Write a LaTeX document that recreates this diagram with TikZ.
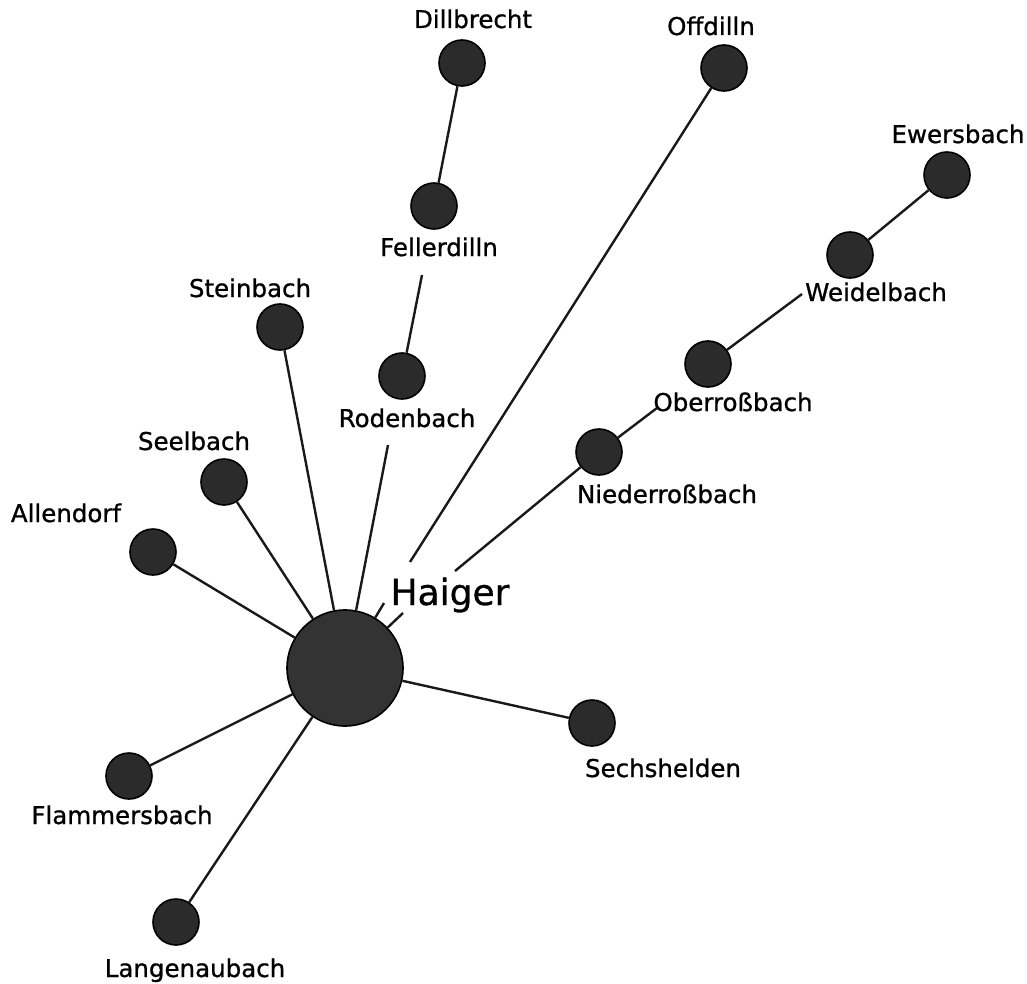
\documentclass[tikz,border=0pt]{standalone}
\usepackage{fontspec}
\setmainfont{DejaVu Sans}
\newfontfamily\lblfont{DejaVu Sans}[BoldFont={DejaVu Sans},BoldFeatures={FakeBold=0.9}]
\begin{document}
\begin{tikzpicture}[x=1pt,y=-1pt,
  town/.style={circle,draw=black,line width=1.6pt,fill=black!83,inner sep=0pt,minimum size=46pt},
  hub/.style={circle,draw=black,line width=1.6pt,fill=black!80,inner sep=0pt,minimum size=116pt},
  lbl/.style={anchor=base,inner sep=0pt,font=\lblfont\bfseries\fontsize{24.5}{26}\selectfont},
  link/.style={line width=2.4pt,black!90}]
\useasboundingbox (0,0) rectangle (1027,984);
% circles
\node[hub]  (Hai) at (345,668) {};
\node[town] (Dil) at (462,63) {};
\node[town] (Off) at (724,68) {};
\node[town] (Ewe) at (947,175) {};
\node[town] (Wei) at (850,255) {};
\node[town] (Fel) at (434,206) {};
\node[town] (Ste) at (280,327) {};
\node[town] (Rod) at (402,376) {};
\node[town] (Obe) at (708,364) {};
\node[town] (See) at (224,482) {};
\node[town] (Nie) at (599,452) {};
\node[town] (All) at (153,552) {};
\node[town] (Sec) at (592,723) {};
\node[town] (Fla) at (129,776) {};
\node[town] (Lan) at (176,922) {};
% labels
\node[lbl] (tDil) at (473,28) {Dillbrecht};
\node[lbl] (tOff) at (711,35) {Offdilln};
\node[lbl] (tEwe) at (958,143) {Ewersbach};
\node[lbl] (tWei) at (876,301) {Weidelbach};
\node[lbl] (tFel) at (439,256) {Fellerdilln};
\node[lbl] (tSte) at (250,297) {Steinbach};
\node[lbl] (tRod) at (407,427) {Rodenbach};
\node[lbl] (tObe) at (733,411) {Oberroßbach};
\node[lbl] (tSee) at (194,450) {Seelbach};
\node[lbl] (tNie) at (667,503) {Niederroßbach};
\node[lbl] (tAll) at (66,522) {Allendorf};
\node[lbl] (tSec) at (663,777) {Sechshelden};
\node[lbl] (tFla) at (122,824) {Flammersbach};
\node[lbl] (tLan) at (195,977) {Langenaubach};
\node[anchor=base,inner sep=0pt,font=\lblfont\bfseries\fontsize{36}{38}\selectfont] (tHai) at (450,605) {Haiger};
% free line ends
\coordinate (felE) at (422,275);
\coordinate (rodE) at (388,445);
\coordinate (offE) at (410,562);
\coordinate (offS) at (384,603);
\coordinate (nieE) at (455,571);
\coordinate (nieS) at (403,613);
\coordinate (obeE) at (657,408);
\coordinate (weiE) at (802,294);
% connectors
\draw[link] (Dil) -- (Fel);
\draw[link] (Rod) -- (felE);
\draw[link] (rodE) -- (Hai);
\draw[link] (Off) -- (offE);
\draw[link] (Hai) -- (offS);
\draw[link] (Nie) -- (nieE);
\draw[link] (Hai) -- (nieS);
\draw[link] (Nie) -- (obeE);
\draw[link] (Obe) -- (weiE);
\draw[link] (Wei) -- (Ewe);
\draw[link] (Ste) -- (Hai);
\draw[link] (See) -- (Hai);
\draw[link] (All) -- (Hai);
\draw[link] (Fla) -- (Hai);
\draw[link] (Lan) -- (Hai);
\draw[link] (Sec) -- (Hai);
\end{tikzpicture}
\end{document}
